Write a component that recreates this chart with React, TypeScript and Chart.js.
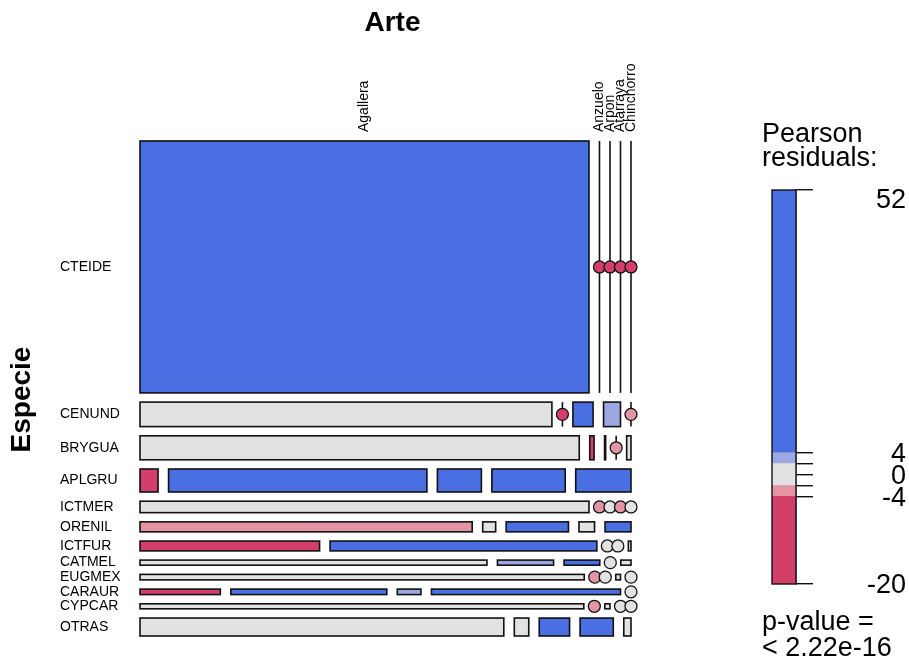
import React, { useEffect, useRef } from "react";
import { Chart, registerables } from "chart.js";

Chart.register(...registerables);

// ---- data ----
const especies = ["CTEIDE", "CENUND", "BRYGUA", "APLGRU", "ICTMER", "ORENIL", "ICTFUR", "CATMEL", "EUGMEX", "CARAUR", "CYPCAR", "OTRAS"];
const artes = ["Agallera", "Anzuelo", "Arpon", "Atarraya", "Chinchorro"];
// counts per Arte (one value per Especie, same order as especies)
const agallera = [4360, 389, 406, 16, 198, 128, 68, 68, 94, 17, 86, 252];
const anzuelo = [0, 0, 4, 229, 0, 5, 101, 11, 0, 33, 0, 10];
const arpon = [0, 19, 1, 39, 0, 24, 0, 7, 0, 5, 1, 21];
const atarraya = [0, 16, 0, 65, 0, 6, 0, 0, 1, 40, 0, 23];
const chinchorro = [0, 0, 4, 49, 0, 10, 1, 2, 0, 0, 0, 5];
// legend (Pearson residual colour key)
const legendTicks = [52, 4, 2, 0, -2, -4, -20];
const legendTickLabels = ["52", "4", "", "0", "", "-4", "-20"];
const shadeBreaks = [-20, -4, -2, 2, 4, 52];
const shadeColors = ["#D33F6A", "#E495A5", "#E2E2E2", "#9DA8E2", "#4A6FE3"];
const pValueLines = ["p-value =", "< 2.22e-16"];
const legendTitle = ["Pearson", "residuals:"];
const xTitle = "Arte";
const yTitle = "Especie";

const FONT = '"Liberation Sans", Arial, Helvetica, sans-serif';
const GAP = 0.0234;
const EDGE = "#111";

function shade(r: number): string {
  if (r > 4) return shadeColors[4];
  if (r > 2) return shadeColors[3];
  if (r >= -2) return shadeColors[2];
  if (r >= -4) return shadeColors[1];
  return shadeColors[0];
}

type Cell = { x0: number; x1: number; y0: number; y1: number; res: number; zero: boolean; row: number; col: number };

function buildLayout() {
  const columns = [agallera, anzuelo, arpon, atarraya, chinchorro];
  const rowTotals = especies.map((_, i) => columns.reduce((s, c) => s + c[i], 0));
  const colTotals = columns.map((c) => c.reduce((s, v) => s + v, 0));
  const N = rowTotals.reduce((s, v) => s + v, 0);
  const cells: Cell[] = [];
  const rowCenters: number[] = [];
  let yc = 0;
  especies.forEach((_, i) => {
    const h = rowTotals[i] / N;
    let xc = 0;
    columns.forEach((col, j) => {
      const w = col[i] / rowTotals[i];
      const e = (rowTotals[i] * colTotals[j]) / N;
      const res = (col[i] - e) / Math.sqrt(e);
      cells.push({ x0: xc, x1: xc + w, y0: yc, y1: yc + h, res, zero: col[i] === 0, row: i, col: j });
      xc += w + GAP;
    });
    rowCenters.push(yc + h / 2);
    yc += h + GAP;
  });
  return {
    cells,
    rowCenters,
    xMax: 1 + (artes.length - 1) * GAP,
    yMax: 1 + (especies.length - 1) * GAP,
  };
}

export default function App() {
  const mainRef = useRef<HTMLCanvasElement>(null);
  const legRef = useRef<HTMLCanvasElement>(null);

  useEffect(() => {
    const { cells, rowCenters, xMax, yMax } = buildLayout();
    const zeroCells = cells.filter((c) => c.zero);

    const mosaicPlugin = {
      id: "mosaic",
      beforeDatasetsDraw(chart: any) {
        const ctx = chart.ctx;
        const xs = chart.scales.x;
        const ys = chart.scales.y;
        ctx.save();
        cells.forEach((c) => {
          const px0 = xs.getPixelForValue(c.x0);
          const px1 = xs.getPixelForValue(c.x1);
          const py0 = ys.getPixelForValue(c.y0);
          const py1 = ys.getPixelForValue(c.y1);
          ctx.strokeStyle = EDGE;
          ctx.lineWidth = 1.6;
          if (c.zero) {
            ctx.beginPath();
            ctx.moveTo(px0, py0);
            ctx.lineTo(px0, py1);
            ctx.stroke();
          } else {
            ctx.fillStyle = shade(c.res);
            ctx.fillRect(px0, py0, px1 - px0, py1 - py0);
            ctx.strokeRect(px0, py0, px1 - px0, py1 - py0);
          }
        });
        ctx.restore();
      },
      afterDraw(chart: any) {
        const ctx = chart.ctx;
        const xs = chart.scales.x;
        const ys = chart.scales.y;
        const area = chart.chartArea;
        ctx.save();
        ctx.fillStyle = "#000";
        // title of columns
        ctx.font = `bold 28px ${FONT}`;
        ctx.textAlign = "center";
        ctx.textBaseline = "middle";
        ctx.fillText(xTitle, (area.left + area.right) / 2 + 7, 23);
        // title of rows
        ctx.save();
        ctx.translate(22, (area.top + area.bottom) / 2 + 11);
        ctx.rotate(-Math.PI / 2);
        ctx.fillText(yTitle, 0, 0);
        ctx.restore();
        // row labels
        ctx.font = `14px ${FONT}`;
        ctx.textAlign = "left";
        ctx.textBaseline = "middle";
        especies.forEach((name, i) => {
          ctx.fillText(name, 60, ys.getPixelForValue(rowCenters[i]));
        });
        // column labels at top row cells
        cells
          .filter((c) => c.row === 0)
          .forEach((c) => {
            const cx = xs.getPixelForValue((c.x0 + c.x1) / 2);
            ctx.save();
            ctx.translate(cx, area.top - 9);
            ctx.rotate(-Math.PI / 2);
            ctx.textAlign = "left";
            ctx.textBaseline = "middle";
            ctx.fillText(artes[c.col], 0, 0);
            ctx.restore();
          });
        ctx.restore();
      },
    };

    const main = new Chart(mainRef.current as HTMLCanvasElement, {
      type: "scatter",
      data: {
        datasets: [
          {
            data: zeroCells.map((c) => ({ x: c.x0, y: rowCenters[c.row] })),
            pointRadius: 6,
            pointBackgroundColor: zeroCells.map((c) => shade(c.res)),
            pointBorderColor: EDGE,
            pointBorderWidth: 1.3,
            clip: false,
          } as any,
        ],
      },
      options: {
        animation: false,
        responsive: false,
        events: [],
        layout: { padding: { left: 140, right: 109, top: 141, bottom: 25 } },
        scales: {
          x: { type: "linear", min: 0, max: xMax, display: false },
          y: { type: "linear", min: 0, max: yMax, reverse: true, display: false },
        },
        plugins: { legend: { display: false }, tooltip: { enabled: false } },
      },
      plugins: [mosaicPlugin],
    });

    const bands = shadeColors.map((color, i) => ({ lo: shadeBreaks[i], hi: shadeBreaks[i + 1], color }));

    const legendPlugin = {
      id: "legendText",
      afterDatasetsDraw(chart: any) {
        const ctx = chart.ctx;
        const a = chart.chartArea;
        ctx.save();
        ctx.strokeStyle = EDGE;
        ctx.lineWidth = 1.4;
        ctx.strokeRect(a.left, a.top, a.right - a.left, a.bottom - a.top);
        ctx.restore();
      },
      afterDraw(chart: any) {
        const ctx = chart.ctx;
        const ys = chart.scales.y;
        const a = chart.chartArea;
        ctx.save();
        ctx.fillStyle = "#000";
        ctx.font = `27px ${FONT}`;
        ctx.textAlign = "left";
        ctx.textBaseline = "alphabetic";
        ctx.fillText(legendTitle[0], 22, 142);
        ctx.fillText(legendTitle[1], 22, 166);
        ctx.fillText(pValueLines[0], 22, 630);
        ctx.fillText(pValueLines[1], 22, 656);
        ctx.textAlign = "right";
        ctx.textBaseline = "middle";
        legendTicks.forEach((v, i) => {
          const lab = legendTickLabels[i];
          if (!lab) return;
          let y = ys.getPixelForValue(v) + 2;
          if (y < a.top + 11) y = a.top + 11;
          ctx.fillText(lab, 166, y);
        });
        ctx.restore();
      },
    };

    const legend = new Chart(legRef.current as HTMLCanvasElement, {
      type: "bar",
      data: {
        labels: [""],
        datasets: bands.map((b) => ({
          data: [[b.lo, b.hi]],
          backgroundColor: b.color,
          borderWidth: 0,
          barPercentage: 1,
          categoryPercentage: 1,
          grouped: false,
        })) as any,
      },
      options: {
        animation: false,
        responsive: false,
        events: [],
        layout: { padding: { left: 32, right: 0, top: 190, bottom: 77 } },
        scales: {
          x: { display: false },
          y: {
            position: "right",
            min: shadeBreaks[0],
            max: shadeBreaks[shadeBreaks.length - 1],
            afterBuildTicks: (s: any) => {
              s.ticks = legendTicks.map((v) => ({ value: v }));
            },
            afterFit: (s: any) => {
              s.width = 113;
            },
            grid: { drawOnChartArea: false, drawTicks: true, tickLength: 17, color: EDGE, lineWidth: 1.4 },
            border: { display: true, color: EDGE, width: 1.4 },
            ticks: { display: false },
          } as any,
        },
        plugins: { legend: { display: false }, tooltip: { enabled: false } },
      },
      plugins: [legendPlugin],
    });

    return () => {
      main.destroy();
      legend.destroy();
    };
  }, []);

  return (
    <div style={{ position: "fixed", left: 0, top: 0, width: 909, height: 661, background: "#fff" }}>
      <canvas ref={mainRef} width={740} height={661} style={{ position: "absolute", left: 0, top: 0, width: 740, height: 661 }} />
      <canvas ref={legRef} width={169} height={661} style={{ position: "absolute", left: 740, top: 0, width: 169, height: 661 }} />
    </div>
  );
}
